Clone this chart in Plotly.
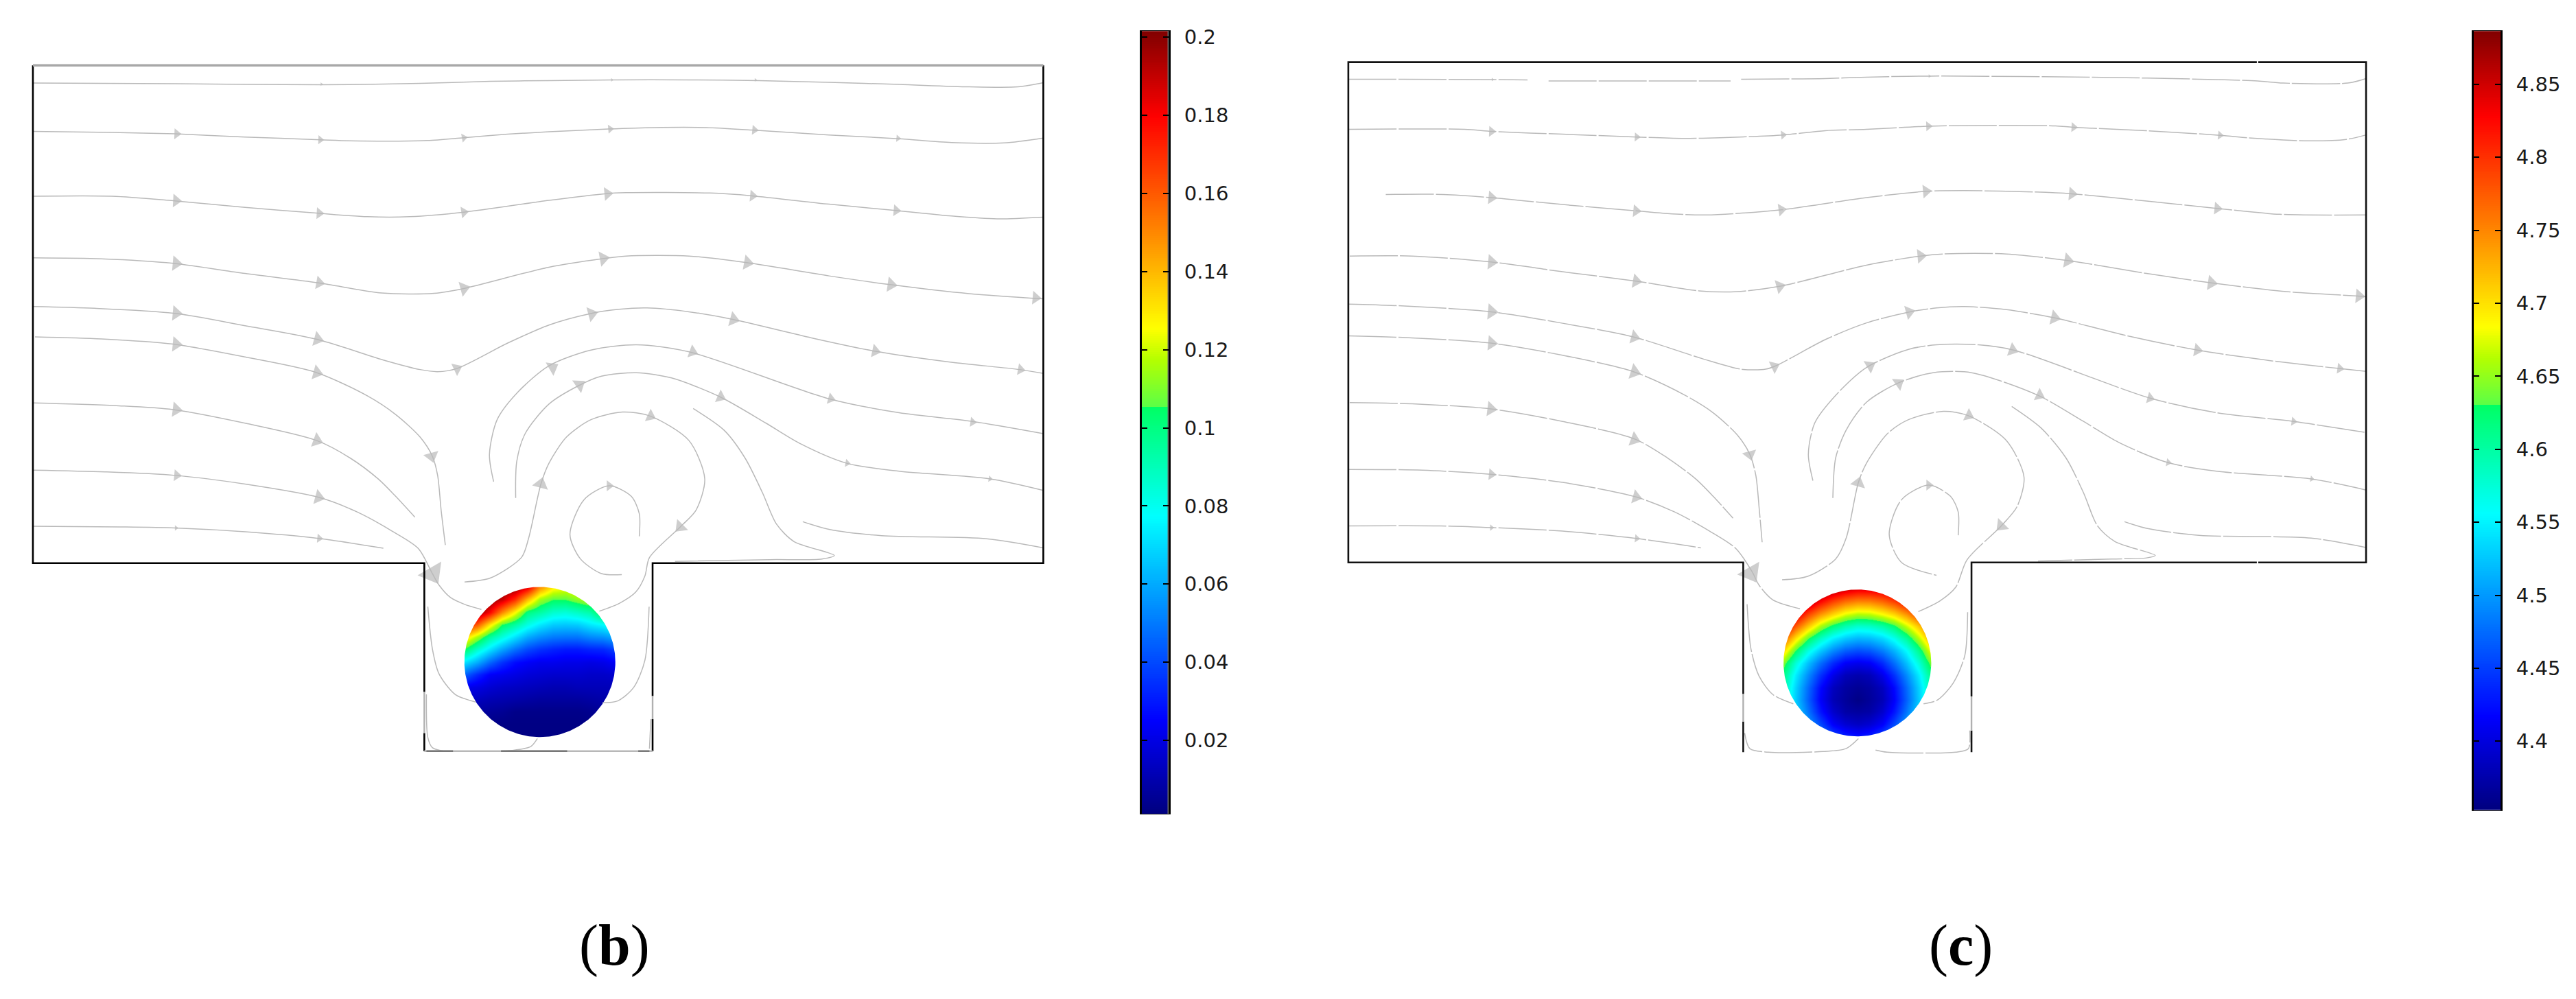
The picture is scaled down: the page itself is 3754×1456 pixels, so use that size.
import numpy as np
import plotly.graph_objects as go

# ---------- shared styling ----------
STREAM = "#b9b9b9"
U_PER_PX = 1.96
PANEL_W_PX, PANEL_H_PX, PANEL_TOP_PX = 1600, 1200, 56
PANEL_LEFT_B, PANEL_LEFT_C = 0, 1920
FIG_W, FIG_H = 3754, 1456
ARROW_SCALE = 1.15

# ---------- colour bars ----------
b_range = (0.0011, 0.2016)
c_range = (4.3529, 4.8865)
b_ticks = [0.02, 0.04, 0.06, 0.08, 0.1, 0.12, 0.14, 0.16, 0.18, 0.2]
b_ticktext = ["0.02", "0.04", "0.06", "0.08", "0.1", "0.12", "0.14", "0.16", "0.18", "0.2"]
c_ticks = [4.4, 4.45, 4.5, 4.55, 4.6, 4.65, 4.7, 4.75, 4.8, 4.85]
c_ticktext = ["4.4", "4.45", "4.5", "4.55", "4.6", "4.65", "4.7", "4.75", "4.8", "4.85"]
colorscale = [
    [0.0, "#00007f"], [0.12, "#0000ff"], [0.25, "#0080ff"], [0.38, "#00ffff"],
    [0.5195, "#00ff64"], [0.5205, "#5cff46"], [0.58, "#b4ff00"], [0.62, "#ffff00"],
    [0.75, "#ff8000"], [0.89, "#ff0000"], [1.0, "#800000"],
]

# ---------- sphere surface fields ----------
b_center, b_radius = (1542, 1776), 215.6
c_center, c_radius = (1542, 1778.7), 211
# panel (b): columns left->right, rows top->bottom
b_field_cols = [
    [.2, .2, .2, .175, .135, .105, .072, .045, .022, .015, .01, .005, .003],
    [.2, .2, .2, .16, .115, .086, .06, .033, .02, .013, .007, .003, .002],
    [.2, .2, .18, .13, .095, .072, .046, .024, .017, .011, .006, .002, .002],
    [.2, .19, .15, .105, .083, .059, .035, .022, .015, .01, .005, .002, .002],
    [.2, .17, .126, .094, .071, .048, .027, .02, .014, .009, .003, .002, .002],
    [.185, .14, .1, .082, .06, .04, .024, .018, .013, .008, .003, .002, .002],
    [.15, .115, .094, .073, .054, .035, .022, .017, .012, .007, .003, .002, .002],
    [.13, .106, .086, .067, .05, .032, .022, .016, .011, .007, .003, .002, .002],
    [.125, .106, .084, .066, .049, .03, .021, .016, .011, .007, .003, .002, .002],
    [.13, .112, .088, .067, .049, .03, .021, .016, .012, .007, .003, .002, .002],
    [.14, .118, .093, .073, .053, .032, .02, .015, .012, .008, .004, .002, .002],
    [.15, .13, .11, .077, .055, .033, .021, .015, .012, .009, .006, .003, .002],
    [.15, .13, .11, .085, .06, .038, .024, .016, .012, .01, .007, .005, .003],
]
# panel (c): rows top->bottom, columns left->right
c_field_rows = [
    [4.89, 4.89, 4.89, 4.89, 4.867, 4.848, 4.836, 4.837, 4.844, 4.858, 4.877, 4.873, 4.87],
    [4.89, 4.89, 4.868, 4.823, 4.787, 4.76, 4.747, 4.749, 4.764, 4.788, 4.822, 4.849, 4.87],
    [4.89, 4.848, 4.788, 4.741, 4.706, 4.676, 4.661, 4.665, 4.683, 4.706, 4.742, 4.789, 4.833],
    [4.849, 4.776, 4.715, 4.659, 4.621, 4.594, 4.579, 4.583, 4.598, 4.624, 4.669, 4.717, 4.779],
    [4.772, 4.698, 4.632, 4.584, 4.549, 4.527, 4.516, 4.52, 4.535, 4.563, 4.604, 4.663, 4.73],
    [4.704, 4.627, 4.568, 4.526, 4.492, 4.468, 4.459, 4.465, 4.485, 4.515, 4.554, 4.61, 4.683],
    [4.643, 4.573, 4.521, 4.476, 4.439, 4.414, 4.408, 4.414, 4.439, 4.476, 4.521, 4.573, 4.643],
    [4.613, 4.545, 4.492, 4.442, 4.405, 4.382, 4.376, 4.382, 4.405, 4.442, 4.492, 4.545, 4.613],
    [4.598, 4.531, 4.474, 4.42, 4.385, 4.37, 4.364, 4.37, 4.385, 4.42, 4.474, 4.531, 4.598],
    [4.594, 4.527, 4.469, 4.415, 4.381, 4.367, 4.357, 4.367, 4.381, 4.415, 4.469, 4.527, 4.594],
    [4.602, 4.536, 4.48, 4.427, 4.392, 4.373, 4.369, 4.373, 4.392, 4.427, 4.48, 4.536, 4.602],
    [4.623, 4.554, 4.503, 4.455, 4.414, 4.395, 4.387, 4.395, 4.414, 4.455, 4.503, 4.554, 4.623],
    [4.661, 4.59, 4.535, 4.492, 4.457, 4.434, 4.425, 4.434, 4.457, 4.492, 4.535, 4.59, 4.661],
]

# ---------- streamlines, panel (b) ----------
b_lines = [
    [(94,113),(500,115),(918,118),(1200,114),(1400,108),(1568,106),(1748,104),(1968,104),(2168,106),(2368,111),(2568,117),(2768,124),(2908,124),(2980,112)],
    [(94,252),(320,255),(500,259),(700,268),(915,276),(1000,279),(1220,278),(1325,270),(1450,260),(1568,253),(1738,245),(1868,241),(2018,241),(2148,248),(2368,262),(2568,273),(2718,284),(2868,285),(2980,271)],
    [(94,438),(320,438),(495,451),(700,470),(910,487),(1050,497),(1170,497),(1325,484),(1568,450),(1728,431),(1788,428),(2028,429),(2148,437),(2368,461),(2558,479),(2718,495),(2848,503),(2980,498)],
    [(94,615),(290,618),(495,631),(700,660),(910,687),(1090,716),(1240,717),(1325,703),(1568,642),(1718,618),(1788,610),(1968,610),(2133,629),(2368,667),(2543,692),(2768,718),(2980,733)],
    [(94,755),(270,760),(495,774),(700,810),(905,849),(1100,910),(1200,936),(1250,942),(1305,933),(1450,860),(1568,808),(1683,776),(1768,763),(1848,759),(1968,770),(2093,792),(2318,845),(2498,883),(2718,915),(2913,936),(2980,947)],
    [(100,842),(290,848),(495,863),(700,900),(905,945),(1050,1012),(1130,1065),(1200,1130),(1235,1185),(1250,1240),(1260,1340),(1272,1440)],
    [(94,1032),(340,1040),(495,1051),(700,1090),(905,1140),(1000,1190),(1080,1250),(1130,1300),(1185,1360)],
    [(94,1225),(300,1230),(500,1240),(700,1265),(910,1303),(1020,1345),(1120,1400),(1195,1450),(1235,1522),(1254,1555),(1287,1591),(1326,1610),(1375,1625)],
    [(94,1386),(340,1388),(500,1391),(700,1402),(910,1421),(1095,1449)],
    [(1410,1258),(1398,1180),(1420,1080),(1480,1000),(1568,925),(1688,880),(1818,865),(1968,885),(2368,1020),(2568,1060),(2778,1085),(2980,1120)],
    [(1473,1305),(1476,1200),(1500,1120),(1568,1035),(1653,982),(1718,955),(1818,945),(1918,960),(2058,1015),(2188,1090),(2288,1150),(2418,1205),(2568,1228),(2828,1250),(2980,1283)],
    [(1327,1546),(1400,1535),(1490,1475),(1510,1420),(1545,1265),(1568,1205),(1618,1130),(1688,1080),(1778,1058),(1858,1070),(1968,1140),(2013,1250),(1988,1340),(1943,1388),(1855,1476),(1842,1529),(1816,1575),(1770,1607),(1712,1630)],
    [(1826,1415),(1826,1350),(1803,1300),(1740,1270),(1668,1310),(1628,1410),(1658,1480),(1718,1522),(1776,1525)],
    [(1980,1048),(2068,1110),(2128,1190),(2178,1290),(2218,1380),(2268,1430),(2383,1470),(2348,1480),(2198,1482),(1928,1487)],
    [(2293,1373),(2368,1395),(2518,1413),(2818,1422),(2980,1448)],
    [(1222,1617),(1235,1738),(1254,1810),(1300,1869),(1359,1891)],
    [(1854,1617),(1842,1771),(1810,1849),(1764,1888),(1721,1893)],
    [(1535,1996),(1516,2019),(1470,2029),(1431,2032)],
    [(1218,1869),(1222,1993),(1235,2022),(1267,2032)],
    [(1855,2025),(1859,1940)],
]
b_arrow_u = [918,1748,2158,505,915,1325,1743,2155,2565,503,912,1325,1735,2150,2560,503,912,1325,1723,2135,2545,2958,503,907,1305,1690,2095,2500,2915,503,905,1233,503,905,505,910,1235,503,912,1578,1978,2373,2778,1655,2058,2420,2828,1545,1858,1943,1740]
b_arrow_v = [116,104,104,259,276,270,245,248,272,451,487,484,431,437,479,631,687,703,617,629,692,730,774,849,933,776,792,883,936,863,945,1185,1051,1140,1240,1303,1522,1391,1421,930,885,1020,1087,980,1015,1205,1250,1265,1070,1388,1270]
b_arrow_angle = [90,90,90,92,92,80,85,95,95,93,93,82,85,95,95,95,100,75,80,100,98,95,95,105,65,75,105,102,100,95,105,165,97,110,95,105,150,90,95,60,110,105,97,55,115,100,100,15,115,225,90]
b_arrow_size = [4,4,4,12,10,10,10,11,8,15,13,13,15,13,13,17,15,17,17,17,17,15,17,17,15,17,17,15,13,17,17,17,17,17,13,17,30,6,10,17,15,13,11,17,15,9,7,18,15,17,12]

# ---------- streamlines, panel (c) ----------
c_lines = [
    [(88,102),(500,103),(600,104)],
    [(660,107),(1180,107)],
    [(1210,102),(1450,100),(1568,96),(1748,93),(2268,97),(2518,102),(2685,107),(2758,113),(2943,113),(2995,100)],
    [(88,246),(420,246),(500,252),(700,260),(912,268),(1040,272),(1150,270),(1330,262),(1450,250),(1568,246),(1743,237),(1868,235),(2108,236),(2158,240),(2368,250),(2578,263),(2668,271),(2818,279),(2938,275),(2995,262)],
    [(195,433),(360,433),(495,442),(700,462),(910,480),(1000,488),(1110,492),(1325,477),(1568,442),(1738,424),(1848,422),(2048,426),(2153,431),(2368,452),(2568,473),(2748,490),(2995,492)],
    [(92,610),(270,610),(495,627),(700,655),(910,682),(1090,710),(1200,712),(1320,697),(1568,636),(1723,610),(1788,604),(1968,604),(2143,623),(2368,660),(2553,687),(2768,712),(2973,725),(2995,727)],
    [(88,748),(240,753),(495,770),(700,803),(905,843),(1100,905),(1210,935),(1280,935),(1310,925),(1450,850),(1568,802),(1688,771),(1768,759),(1848,755),(1968,764),(2103,787),(2318,840),(2513,880),(2718,910),(2918,933),(2995,941)],
    [(88,839),(270,845),(495,860),(700,895),(905,943),(1050,1010),(1130,1060),(1200,1125),(1235,1180),(1252,1240),(1262,1340),(1270,1432)],
    [(92,1031),(280,1035),(495,1049),(700,1085),(905,1135),(1000,1190),(1080,1250),(1130,1300),(1187,1363)],
    [(88,1223),(300,1225),(495,1237),(700,1260),(910,1302),(1020,1345),(1120,1400),(1195,1450),(1241,1516),(1261,1555),(1300,1597),(1378,1623)],
    [(88,1385),(350,1385),(500,1390),(700,1400),(910,1421),(1095,1448)],
    [(1415,1255),(1402,1180),(1420,1090),(1480,1010),(1568,930),(1688,878),(1768,865),(1888,865),(1988,880),(2378,1018),(2568,1060),(2788,1085),(2995,1117)],
    [(1472,1305),(1480,1190),(1510,1110),(1568,1030),(1658,975),(1758,945),(1868,945),(2058,1010),(2188,1085),(2288,1145),(2428,1203),(2568,1228),(2838,1250),(2995,1282)],
    [(1327,1540),(1400,1530),(1480,1480),(1510,1420),(1545,1260),(1568,1205),(1628,1120),(1688,1080),(1788,1056),(1858,1068),(1968,1140),(2018,1245),(1998,1330),(1953,1385),(1855,1483),(1823,1561),(1777,1601),(1712,1633)],
    [(1830,1412),(1830,1345),(1808,1300),(1746,1268),(1668,1310),(1633,1410),(1668,1490),(1768,1527)],
    [(1983,1042),(2068,1105),(2138,1190),(2188,1290),(2228,1385),(2278,1430),(2393,1470),(2368,1477),(2268,1480),(2058,1486)],
    [(2305,1373),(2368,1392),(2518,1412),(2838,1420),(2995,1447)],
    [(1227,1610),(1238,1738),(1261,1816),(1300,1869),(1359,1896)],
    [(1857,1633),(1849,1757),(1816,1836),(1771,1885),(1731,1896)],
    [(1545,1996),(1509,2025),(1444,2033),(1287,2035),(1235,2025),(1220,1980)],
    [(1594,2029),(1627,2035),(1823,2035),(1859,2025),(1863,1973)],
]
c_arrow_u = [500,1748,497,912,1330,1745,2160,2578,497,910,1325,1738,2155,2570,497,910,1320,1723,2143,2553,2975,497,905,1305,1690,2105,2513,2920,497,905,1235,495,905,497,910,1238,497,912,1578,1985,2378,2788,1660,2062,2430,2840,1545,1860,1953,1746]
c_arrow_v = [103,93,252,268,262,237,240,263,442,480,477,424,431,473,627,682,697,610,623,687,725,770,843,927,771,787,880,933,860,943,1180,1049,1137,1237,1302,1520,1390,1421,925,880,1018,1085,975,1010,1203,1250,1262,1068,1385,1268]
c_arrow_angle = [90,90,92,92,85,88,93,95,95,95,82,85,95,95,95,100,75,85,100,98,95,95,105,65,75,103,100,97,95,107,165,97,110,95,105,150,90,95,60,110,105,97,55,115,100,100,15,115,225,90]
c_arrow_size = [4,4,12,10,10,11,11,10,15,14,14,15,15,14,17,16,16,16,17,17,16,18,16,15,16,17,15,12,17,18,16,17,17,13,16,28,7,9,16,16,13,10,16,15,9,7,17,15,17,12]

# ---------- domain outlines ----------
b_outline_u = [94,94,1212,1212,None,1864,1864,2980,2980,None,1212,1212,None,1864,1864]
b_outline_v = [62,1492,1492,1862,None,1874,1492,1492,62,None,1980,2032,None,1940,2032]
b_top_u, b_top_v = [94,2980], [62,62]
b_wall_u = [1212,1212,None,1864,1864]
b_wall_v = [1862,1980,None,1874,1940]
b_floor_u, b_floor_v = [1212,1864], [2032,2032]
b_floor_dark_u = [1218,1294,None,1431,1620,None,1823,1855]
b_floor_dark_v = [2032,2032,None,2032,2032,None,2032,2032]
c_outline_u = [2683,88,88,1216,1216,None,1868,1868,2683,None,2687,2995,2995,2687,None,1216,1216,None,1868,1868]
c_outline_v = [53,53,1490,1490,1868,None,1875,1490,1490,None,1490,1490,53,53,None,1947,2035,None,1973,2035]
c_wall_u = [1216,1216,None,1868,1868]
c_wall_v = [1868,1947,None,1875,1973]

captions = [("(<b>b</b>)", 895, 1405), ("(<b>c</b>)", 2857, 1405)]

# ---------- figure ----------
fig = go.Figure()


def polyline(xs, ys, color, width, xa, ya, dash=None, shape="linear"):
    fig.add_trace(go.Scatter(x=xs, y=ys, mode="lines", xaxis=xa, yaxis=ya, showlegend=False,
                             hoverinfo="skip", line=dict(color=color, width=width, dash=dash, shape=shape, smoothing=0.8)))


def panel(center, radius, z, rng, lines, au, av, aang, asz, xa, ya, dash):
    cx, cy = center
    step = radius / 6
    nodes = np.arange(-6, 7)
    fig.add_trace(go.Heatmap(x=cx + nodes * step, y=cy + nodes * step, z=z, zmin=rng[0], zmax=rng[1],
                             colorscale=colorscale, zsmooth="best", showscale=False, hoverinfo="skip",
                             xaxis=xa, yaxis=ya))
    # white surround that leaves only the disc of the field visible
    R = radius * 1.1
    t = np.linspace(0, -2 * np.pi, 361)
    mx = [cx + R, cx + R, cx - R, cx - R, cx + R, cx + R] + list(cx + radius * np.cos(t)) + [cx + R]
    my = [cy, cy + R, cy + R, cy - R, cy - R, cy] + list(cy + radius * np.sin(t)) + [cy]
    fig.add_trace(go.Scatter(x=mx, y=my, mode="lines", fill="toself", fillcolor="white",
                             line=dict(width=0, color="white"), xaxis=xa, yaxis=ya,
                             showlegend=False, hoverinfo="skip"))
    for ln in lines:
        polyline([p[0] for p in ln], [p[1] for p in ln], STREAM, 1.5, xa, ya, dash=dash, shape="spline")
    fig.add_trace(go.Scatter(x=au, y=av, mode="markers", xaxis=xa, yaxis=ya, showlegend=False, hoverinfo="skip",
                             marker=dict(symbol="triangle-up", size=[s * ARROW_SCALE for s in asz], angle=aang,
                                         color=STREAM, line=dict(width=0))))


panel(b_center, b_radius, np.array(b_field_cols).T, b_range, b_lines, b_arrow_u, b_arrow_v, b_arrow_angle, b_arrow_size, "x", "y", None)
polyline(b_outline_u, b_outline_v, "#000000", 2.6, "x", "y")
polyline(b_top_u, b_top_v, "#a8a8a8", 3.5, "x", "y")
polyline(b_wall_u, b_wall_v, "#b0b0b0", 2.4, "x", "y")
polyline(b_floor_u, b_floor_v, "#b8b8b8", 2.4, "x", "y")
polyline(b_floor_dark_u, b_floor_dark_v, "#777777", 2.4, "x", "y")

panel(c_center, c_radius, np.array(c_field_rows), c_range, c_lines, c_arrow_u, c_arrow_v, c_arrow_angle, c_arrow_size, "x2", "y2", "70px,3px")
polyline(c_outline_u, c_outline_v, "#111111", 2.6, "x2", "y2")
polyline(c_wall_u, c_wall_v, "#b0b0b0", 2.4, "x2", "y2")


def colorbar(rng, xa, ya):
    vals = np.linspace(rng[0], rng[1], 400)
    fig.add_trace(go.Heatmap(x=[0, 1], y=vals, z=np.column_stack([vals, vals]), zmin=rng[0], zmax=rng[1],
                             colorscale=colorscale, showscale=False, hoverinfo="skip", xaxis=xa, yaxis=ya))


colorbar(b_range, "x3", "y3")
colorbar(c_range, "x4", "y4")
fig.add_trace(go.Scatter(x=[1, 1], y=list(b_range), mode="lines", xaxis="x3", yaxis="y3", showlegend=False,
                         hoverinfo="skip", cliponaxis=False, line=dict(color="#707070", width=3)))


def xdom(a, b):
    return [a / FIG_W, b / FIG_W]


def ydom(top, bottom):
    return [1 - bottom / FIG_H, 1 - top / FIG_H]


hidden = dict(visible=False, showgrid=False, zeroline=False)
panel_x_range = [0, PANEL_W_PX * U_PER_PX]
panel_y_range = [PANEL_H_PX * U_PER_PX, 0]
panel_y_dom = ydom(PANEL_TOP_PX, PANEL_TOP_PX + PANEL_H_PX)


def cbar_yaxis(top, bottom, rng, ticks, text, anchor):
    return dict(domain=ydom(top, bottom), range=list(rng), side="right", anchor=anchor, showgrid=False, zeroline=False,
                tickvals=ticks, ticktext=text, ticks="inside", ticklen=8, tickwidth=2, tickcolor="#000000",
                showline=True, linecolor="#000000", linewidth=3, mirror="ticks",
                ticklabelstandoff=14, tickfont=dict(family="DejaVu Sans", size=29, color="#1a1a1a"))


def cbar_xaxis(left, right, anchor):
    return dict(domain=xdom(left, right), range=[0, 1], anchor=anchor, showgrid=False, zeroline=False,
                showticklabels=False, ticks="", showline=True, linecolor="#222222", linewidth=1, mirror=True)


fig.update_layout(
    width=FIG_W, height=FIG_H, margin=dict(l=0, r=0, t=0, b=0), showlegend=False,
    paper_bgcolor="white", plot_bgcolor="rgba(0,0,0,0)",
    xaxis=dict(domain=xdom(PANEL_LEFT_B, PANEL_LEFT_B + PANEL_W_PX), range=panel_x_range, anchor="y", **hidden),
    yaxis=dict(domain=panel_y_dom, range=panel_y_range, anchor="x", **hidden),
    xaxis2=dict(domain=xdom(PANEL_LEFT_C, PANEL_LEFT_C + PANEL_W_PX), range=panel_x_range, anchor="y2", **hidden),
    yaxis2=dict(domain=panel_y_dom, range=panel_y_range, anchor="x2", **hidden),
    xaxis3=cbar_xaxis(1664, 1703, "y3"),
    yaxis3=cbar_yaxis(37.4, 1185, b_range, b_ticks, b_ticktext, "x3"),
    xaxis4=cbar_xaxis(3605, 3644, "y4"),
    yaxis4=cbar_yaxis(37.4, 1179, c_range, c_ticks, c_ticktext, "x4"),
    annotations=[dict(text=t, x=px / FIG_W, y=1 - py / FIG_H, xref="paper", yref="paper", xanchor="center",
                      yanchor="bottom", yshift=-22, showarrow=False,
                      font=dict(family="Liberation Serif", size=84, color="#000000")) for t, px, py in captions],
)

fig.write_html("out.html", config={"displayModeBar": False},
               post_script="document.body.style.margin='0';document.body.style.overflow='hidden';")
